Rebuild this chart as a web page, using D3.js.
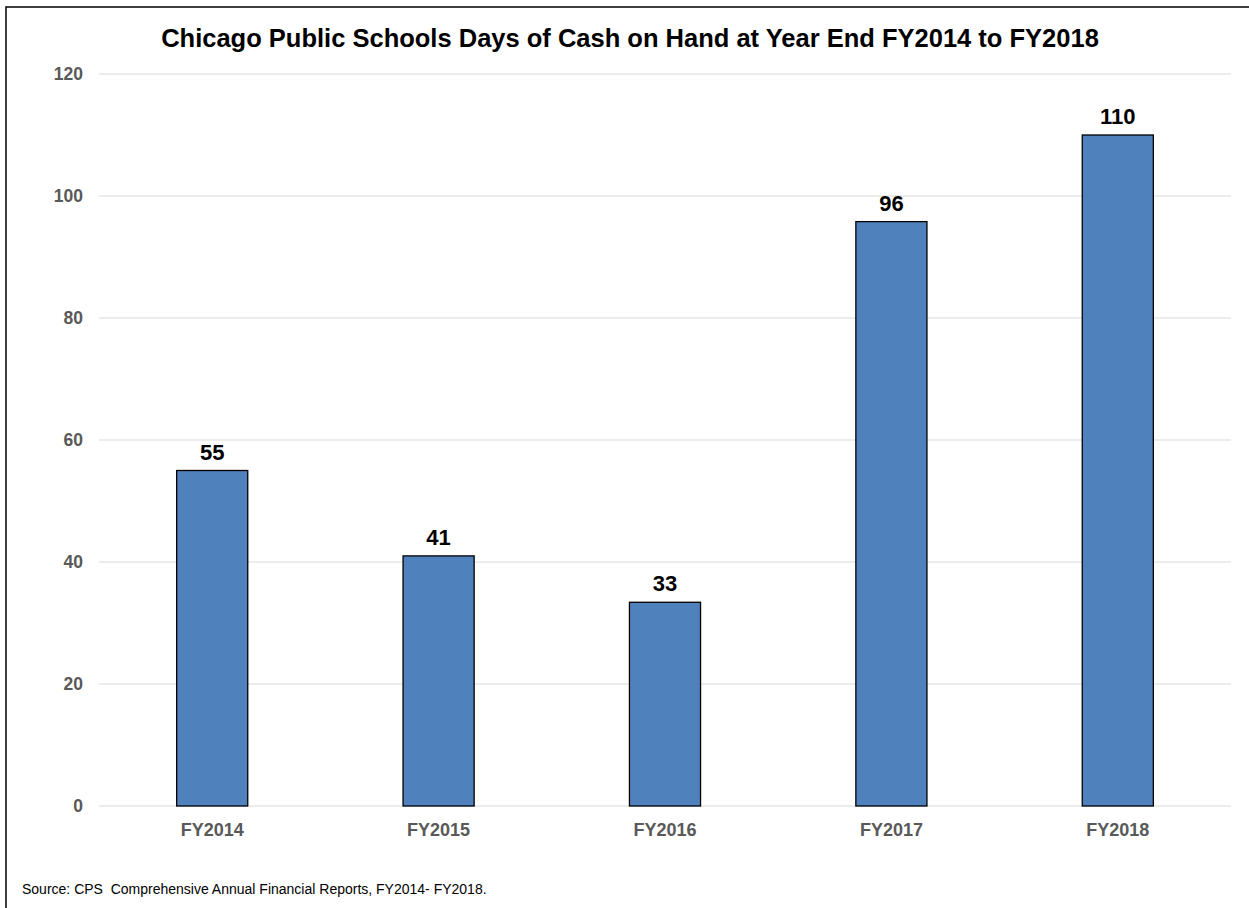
<!DOCTYPE html>
<html>
<head>
<meta charset="utf-8">
<script src="https://cdn.jsdelivr.net/npm/d3@7"></script>
<style>
  body { margin: 0; background: #fff; }
  text { font-family: Arial, "Liberation Sans", sans-serif; }
</style>
</head>
<body>
<div id="chart"></div>
<script>
// chart data
let years = ["FY2014", "FY2015", "FY2016", "FY2017", "FY2018"];
let daysOfCash = [55, 41, 33.4, 95.8, 110];
let yTicks = [0, 20, 40, 60, 80, 100, 120];

let width = 1249, height = 908;
let margin = {top: 74, right: 18, bottom: 102, left: 99};

let svg = d3.select("#chart").append("svg")
    .attr("width", width)
    .attr("height", height);

// outer frame (only left + top edges visible in the original)
svg.append("path")
    .attr("d", "M6,908 V7 H1249")
    .attr("fill", "none")
    .attr("stroke", "#000")
    .attr("stroke-width", 1.5);

let xScale = d3.scaleBand()
    .domain(years)
    .range([margin.left, width - margin.right])
    .paddingInner(0.686)
    .paddingOuter(0.343);

let yScale = d3.scaleLinear()
    .domain([0, 120])
    .range([height - margin.bottom, margin.top]);

//gridlines
svg.append("g")
    .selectAll("line")
    .data(yTicks)
    .enter().append("line")
    .attr("x1", margin.left)
    .attr("x2", width - margin.right)
    .attr("y1", d => yScale(d))
    .attr("y2", d => yScale(d))
    .attr("stroke", "#d9d9d9")
    .attr("stroke-width", 1.2);

//y axis labels
let yAxis = d3.axisLeft(yScale).tickValues(yTicks).tickSize(0).tickPadding(16);
let yG = svg.append("g")
    .attr("transform", "translate(" + margin.left + ",0)")
    .call(yAxis);
yG.select(".domain").remove();
yG.selectAll("text")
    .attr("font-size", 17.5)
    .attr("font-weight", "bold")
    .attr("fill", "#595959")
    .style("font-family", "Arial, 'Liberation Sans', sans-serif");

//bars
svg.selectAll(".bar")
    .data(daysOfCash)
    .enter().append("rect")
    .classed("bar", true)
    .attr("x", (d, i) => xScale(years[i]))
    .attr("y", d => yScale(d))
    .attr("width", xScale.bandwidth())
    .attr("height", d => yScale(0) - yScale(d))
    .attr("fill", "#4F81BD")
    .attr("stroke", "#000")
    .attr("stroke-width", 1.3);

//value labels
svg.selectAll(".valueLabel")
    .data(daysOfCash)
    .enter().append("text")
    .classed("valueLabel", true)
    .attr("x", (d, i) => xScale(years[i]) + xScale.bandwidth() / 2)
    .attr("y", d => yScale(d) - 11)
    .attr("text-anchor", "middle")
    .attr("font-size", 22)
    .attr("font-weight", "bold")
    .attr("fill", "#000")
    .text(d => d3.format(".0f")(d));

//x axis labels
let xAxis = d3.axisBottom(xScale).tickSize(0).tickPadding(17);
let xG = svg.append("g")
    .attr("transform", "translate(0," + yScale(0) + ")")
    .call(xAxis);
xG.select(".domain").remove();
xG.selectAll("text")
    .attr("font-size", 18)
    .attr("font-weight", "bold")
    .attr("fill", "#595959")
    .style("font-family", "Arial, 'Liberation Sans', sans-serif");

//title
svg.append("text")
    .attr("x", 630)
    .attr("y", 47)
    .attr("text-anchor", "middle")
    .attr("font-size", 25.5)
    .attr("font-weight", "bold")
    .attr("fill", "#000")
    .text("Chicago Public Schools Days of Cash on Hand at Year End FY2014 to FY2018");

//source note
svg.append("text")
    .attr("x", 22)
    .attr("y", 894)
    .attr("font-size", 14)
    .attr("fill", "#000")
    .style("white-space", "pre")
    .text("Source: CPS  Comprehensive Annual Financial Reports, FY2014- FY2018.");
</script>
</body>
</html>
